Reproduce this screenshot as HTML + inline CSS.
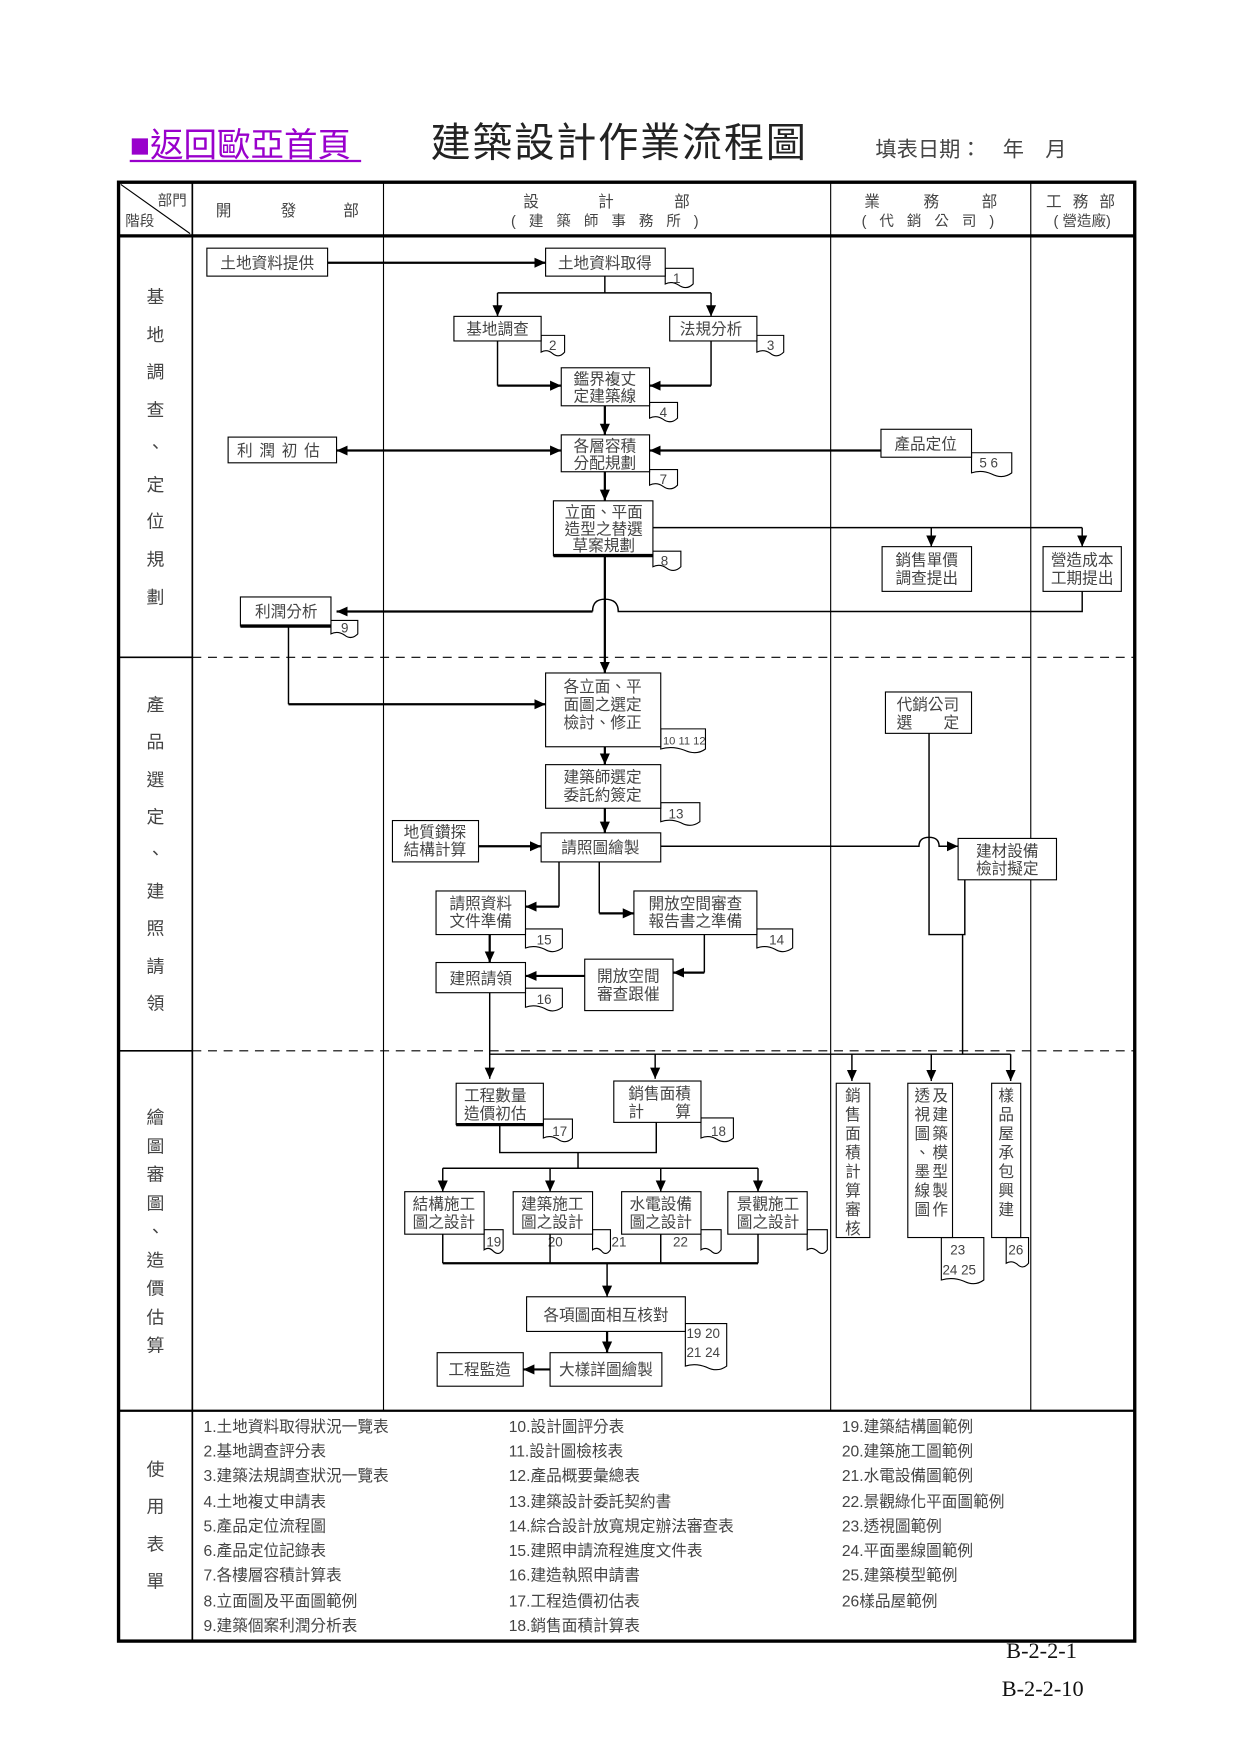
<!DOCTYPE html>
<html><head><meta charset="utf-8"><style>
html,body{margin:0;padding:0;background:#fff;}
svg{display:block;}
text{font-family:"Liberation Sans","Noto Sans CJK TC",sans-serif;fill:#444;}
.n{font-size:14px;text-anchor:middle;}
.t{font-size:12px;font-family:"Liberation Serif",serif;fill:#111;}
.s{font-size:16px;text-anchor:middle;fill:#555;}
.f{font-size:14px;fill:#555;}
</style></head><body>
<svg width="1241" height="1754" viewBox="0 0 1110 1569" xmlns="http://www.w3.org/2000/svg">
<defs>
<marker id="a" viewBox="0 0 10 10" refX="10" refY="5" markerWidth="10" markerHeight="10" markerUnits="userSpaceOnUse" orient="auto"><path d="M0,0.5 L10,5 L0,9.5 z" fill="#000"/></marker>
<marker id="b" viewBox="0 0 10 10" refX="0" refY="5" markerWidth="10" markerHeight="10" markerUnits="userSpaceOnUse" orient="auto"><path d="M10,0.5 L0,5 L10,9.5 z" fill="#000"/></marker>
</defs>

<!-- title -->
<text x="116" y="140" style="font-size:30px;fill:#9900cc;">■返回歐亞首頁</text>
<line x1="116" y1="144" x2="323" y2="144" stroke="#9900cc" stroke-width="2"/>
<text x="385" y="140" style="font-size:36px;fill:#222;letter-spacing:1.5px;">建築設計作業流程圖</text>
<text x="783" y="140" style="font-size:19px;fill:#444;">填表日期：　年　月</text>

<!-- table -->
<rect x="106" y="163" width="909" height="1305" fill="none" stroke="#000" stroke-width="3"/>
<line x1="106" y1="211" x2="1015" y2="211" stroke="#000" stroke-width="3"/>
<line x1="172" y1="163" x2="172" y2="1468" stroke="#000" stroke-width="1.5"/>
<line x1="343" y1="163" x2="343" y2="1262" stroke="#000" stroke-width="1"/>
<line x1="743" y1="163" x2="743" y2="1262" stroke="#000" stroke-width="1"/>
<line x1="922" y1="163" x2="922" y2="1262" stroke="#000" stroke-width="1"/>
<line x1="106" y1="1262" x2="1015" y2="1262" stroke="#000" stroke-width="2"/>
<line x1="106" y1="588" x2="172" y2="588" stroke="#000" stroke-width="1.5"/>
<line x1="106" y1="940" x2="172" y2="940" stroke="#000" stroke-width="1.5"/>
<line x1="172" y1="588" x2="1015" y2="588" stroke="#000" stroke-width="1" stroke-dasharray="8,6"/>
<line x1="172" y1="940" x2="1015" y2="940" stroke="#000" stroke-width="1" stroke-dasharray="8,6"/>
<line x1="108" y1="165" x2="170" y2="209" stroke="#000" stroke-width="1"/>

<!-- header -->
<text x="141" y="184" style="font-size:13px;">部門</text>
<text x="112" y="202" style="font-size:13px;">階段</text>
<text x="193" y="193" style="font-size:14px;">開</text><text x="251" y="193" style="font-size:14px;">發</text><text x="307" y="193" style="font-size:14px;">部</text>
<text x="468" y="185" style="font-size:14px;">設</text><text x="535" y="185" style="font-size:14px;">計</text><text x="603" y="185" style="font-size:14px;">部</text>
<text x="543" y="202" class="n" style="letter-spacing:4px;font-size:13px;">( 建 築 師 事 務 所 )</text>
<text x="773" y="185" style="font-size:14px;">業</text><text x="826" y="185" style="font-size:14px;">務</text><text x="878" y="185" style="font-size:14px;">部</text>
<text x="832" y="202" class="n" style="letter-spacing:4px;font-size:13px;">( 代 銷 公 司 )</text>
<text x="968" y="185" class="n" style="letter-spacing:3px;">工 務 部</text>
<text x="968" y="202" class="n" style="font-size:13px;">( 營造廠)</text>

<!-- stage labels -->
<g class="s">
<text x="139" y="271">基</text><text x="139" y="305">地</text><text x="139" y="338">調</text><text x="139" y="372">查</text><text x="139" y="405">、</text><text x="139" y="439">定</text><text x="139" y="472">位</text><text x="139" y="506">規</text><text x="139" y="540">劃</text>
<text x="139" y="636">產</text><text x="139" y="669">品</text><text x="139" y="703">選</text><text x="139" y="736">定</text><text x="139" y="769">、</text><text x="139" y="803">建</text><text x="139" y="836">照</text><text x="139" y="870">請</text><text x="139" y="903">領</text>
<text x="139" y="1005">繪</text><text x="139" y="1031">圖</text><text x="139" y="1056">審</text><text x="139" y="1082">圖</text><text x="139" y="1107">、</text><text x="139" y="1133">造</text><text x="139" y="1158">價</text><text x="139" y="1184">估</text><text x="139" y="1209">算</text>
<text x="139" y="1320">使</text><text x="139" y="1353">用</text><text x="139" y="1387">表</text><text x="139" y="1420">單</text>
</g>

<!-- forms -->
<g class="f">
<text x="182" y="1281">1.土地資料取得狀況一覽表</text>
<text x="182" y="1303">2.基地調查評分表</text>
<text x="182" y="1325">3.建築法規調查狀況一覽表</text>
<text x="182" y="1348">4.土地複丈申請表</text>
<text x="182" y="1370">5.產品定位流程圖</text>
<text x="182" y="1392">6.產品定位記錄表</text>
<text x="182" y="1414">7.各樓層容積計算表</text>
<text x="182" y="1437">8.立面圖及平面圖範例</text>
<text x="182" y="1459">9.建築個案利潤分析表</text>
<text x="455" y="1281">10.設計圖評分表</text>
<text x="455" y="1303">11.設計圖檢核表</text>
<text x="455" y="1325">12.產品概要彙總表</text>
<text x="455" y="1348">13.建築設計委託契約書</text>
<text x="455" y="1370">14.綜合設計放寬規定辦法審查表</text>
<text x="455" y="1392">15.建照申請流程進度文件表</text>
<text x="455" y="1414">16.建造執照申請書</text>
<text x="455" y="1437">17.工程造價初估表</text>
<text x="455" y="1459">18.銷售面積計算表</text>
<text x="753" y="1281">19.建築結構圖範例</text>
<text x="753" y="1303">20.建築施工圖範例</text>
<text x="753" y="1325">21.水電設備圖範例</text>
<text x="753" y="1348">22.景觀綠化平面圖範例</text>
<text x="753" y="1370">23.透視圖範例</text>
<text x="753" y="1392">24.平面墨線圖範例</text>
<text x="753" y="1414">25.建築模型範例</text>
<text x="753" y="1437">26樣品屋範例</text>
</g>
<text x="900" y="1483" style="font-family:'Liberation Serif',serif;font-size:20px;fill:#111;">B-2-2-1</text>
<text x="896" y="1517" style="font-family:'Liberation Serif',serif;font-size:20px;fill:#111;">B-2-2-10</text>

<!-- doc tags -->
<g fill="#fff" stroke="#000" stroke-width="1">
<path d="M595,240 H620 V254 Q614,260 607,255 Q601,251 595,254 Z"/>
<path d="M484,300 H505 V315 Q500,321 494,316 Q489,312 484,315 Z"/>
<path d="M677,300 H701 V315 Q695,321 689,316 Q683,312 677,315 Z"/>
<path d="M581,360 H606 V374 Q600,380 593,375 Q587,371 581,374 Z"/>
<path d="M581,420 H606 V434 Q600,440 593,435 Q587,431 581,434 Z"/>
<path d="M869,405 H905 V423 Q897,429 887,424 Q878,420 869,423 Z"/>
<path d="M584,493 H609 V507 Q603,513 596,508 Q590,504 584,507 Z"/>
<path d="M296,555 H320 V567 Q314,573 308,568 Q302,564 296,567 Z"/>
<path d="M591,652 H631 V670 Q623,676 612,671 Q601,667 591,670 Z"/>
<path d="M591,718 H626 V735 Q618,741 609,736 Q600,732 591,735 Z"/>
<path d="M470,831 H503 V848 Q495,854 487,849 Q478,845 470,848 Z"/>
<path d="M677,831 H709 V848 Q701,854 693,849 Q685,845 677,848 Z"/>
<path d="M470,884 H503 V901 Q495,907 487,902 Q478,898 470,901 Z"/>
<path d="M486,1001 H512 V1018 Q506,1024 499,1019 Q492,1015 486,1018 Z"/>
<path d="M627,1000 H656 V1018 Q649,1024 641,1019 Q634,1015 627,1018 Z"/>
<path d="M433,1100 H450 V1118 Q446,1124 441,1119 Q437,1115 433,1118 Z"/>
<path d="M530,1100 H546 V1118 Q542,1124 538,1119 Q534,1115 530,1118 Z"/>
<path d="M627,1100 H645 V1118 Q641,1124 636,1119 Q631,1115 627,1118 Z"/>
<path d="M722,1100 H740 V1118 Q736,1124 731,1119 Q726,1115 722,1118 Z"/>
<path d="M842,1107 H880 V1145 Q872,1151 862,1146 Q852,1142 842,1145 Z"/>
<path d="M900,1107 H920 V1130 Q915,1136 910,1131 Q905,1127 900,1130 Z"/>
<path d="M613,1184 H650 V1222 Q642,1228 632,1223 Q622,1219 613,1222 Z"/>
</g>
<g class="t">
<text x="602" y="253">1</text><text x="491" y="313">2</text><text x="686" y="313">3</text>
<text x="590" y="373">4</text><text x="590" y="433">7</text><text x="876" y="418">5 6</text>
<text x="591" y="506">8</text><text x="305" y="566">9</text>
<text x="593" y="666" style="font-size:10px;">10 11 12</text>
<text x="598" y="732">13</text><text x="480" y="845">15</text><text x="688" y="845">14</text>
<text x="480" y="898">16</text><text x="494" y="1016">17</text><text x="636" y="1016">18</text>
<text x="435" y="1115">19</text><text x="490" y="1115">20</text><text x="547" y="1115">21</text><text x="602" y="1115">22</text>
<text x="850" y="1122">23</text><text x="843" y="1140">24  25</text><text x="902" y="1122">26</text>
<text x="614" y="1197">19 20</text><text x="614" y="1214">21 24</text>
</g>

<!-- boxes -->
<g fill="#fff" stroke="#000" stroke-width="1">
<rect x="185" y="222" width="108" height="25"/>
<rect x="488" y="222" width="107" height="25"/>
<rect x="406" y="283" width="78" height="22"/>
<rect x="599" y="283" width="78" height="22"/>
<rect x="502" y="329" width="79" height="34"/>
<rect x="502" y="389" width="79" height="33"/>
<rect x="204" y="391" width="97" height="23"/>
<rect x="788" y="384" width="81" height="25"/>
<rect x="495" y="448" width="89" height="49"/>
<rect x="789" y="489" width="80" height="40"/>
<rect x="933" y="489" width="70" height="40"/>
<rect x="215" y="534" width="81" height="26"/>
<rect x="488" y="602" width="103" height="66"/>
<rect x="488" y="684" width="103" height="39"/>
<rect x="484" y="745" width="107" height="26"/>
<rect x="351" y="734" width="77" height="37"/>
<rect x="857" y="750" width="88" height="37"/>
<rect x="792" y="619" width="77" height="37"/>
<rect x="390" y="797" width="80" height="39"/>
<rect x="567" y="797" width="110" height="39"/>
<rect x="390" y="861" width="80" height="27"/>
<rect x="523" y="858" width="79" height="46"/>
<rect x="408" y="969" width="78" height="37"/>
<rect x="549" y="967" width="78" height="37"/>
<rect x="362" y="1066" width="71" height="38"/>
<rect x="459" y="1066" width="71" height="38"/>
<rect x="556" y="1066" width="71" height="38"/>
<rect x="651" y="1066" width="71" height="38"/>
<rect x="471" y="1160" width="142" height="31"/>
<rect x="492" y="1210" width="100" height="30"/>
<rect x="391" y="1210" width="77" height="30"/>
<rect x="748" y="969" width="30" height="138"/>
<rect x="812" y="969" width="40" height="138"/>
<rect x="887" y="969" width="26" height="138"/>
</g>
<g stroke="#000" stroke-width="3">
<line x1="495" y1="497" x2="584" y2="497"/>
<line x1="215" y1="560" x2="296" y2="560"/>
<line x1="408" y1="1006" x2="486" y2="1006"/>
</g>

<!-- box texts -->
<g class="n">
<text x="239" y="240">土地資料提供</text>
<text x="541" y="240">土地資料取得</text>
<text x="445" y="299">基地調查</text>
<text x="636" y="299">法規分析</text>
<text x="541" y="344">鑑界複丈</text><text x="541" y="359">定建築線</text>
<text x="541" y="404">各層容積</text><text x="541" y="419">分配規劃</text>
<text x="252" y="408" style="letter-spacing:6px;">利潤初估</text>
<text x="828" y="402">產品定位</text>
<text x="540" y="463">立面、平面</text><text x="540" y="478">造型之替選</text><text x="540" y="493">草案規劃</text>
<text x="829" y="506">銷售單價</text><text x="829" y="522">調查提出</text>
<text x="968" y="506">營造成本</text><text x="968" y="522">工期提出</text>
<text x="256" y="552">利潤分析</text>
<text x="539" y="619">各立面、平</text><text x="539" y="635">面圖之選定</text><text x="539" y="651">檢討、修正</text>
<text x="539" y="700">建築師選定</text><text x="539" y="716">委託約簽定</text>
<text x="537" y="763">請照圖繪製</text>
<text x="389" y="749">地質鑽探</text><text x="389" y="765">結構計算</text>
<text x="901" y="766">建材設備</text><text x="901" y="782">檢討擬定</text>
<text x="830" y="635">代銷公司</text><text x="830" y="651">選　　定</text>
<text x="430" y="813">請照資料</text><text x="430" y="829">文件準備</text>
<text x="622" y="813">開放空間審查</text><text x="622" y="829">報告書之準備</text>
<text x="430" y="880">建照請領</text>
<text x="562" y="878">開放空間</text><text x="562" y="894">審查跟催</text>
<text x="443" y="985">工程數量</text><text x="443" y="1001">造價初估</text>
<text x="590" y="983">銷售面積</text><text x="590" y="999">計　　算</text>
<text x="397" y="1082">結構施工</text><text x="397" y="1098">圖之設計</text>
<text x="494" y="1082">建築施工</text><text x="494" y="1098">圖之設計</text>
<text x="591" y="1082">水電設備</text><text x="591" y="1098">圖之設計</text>
<text x="687" y="1082">景觀施工</text><text x="687" y="1098">圖之設計</text>
<text x="542" y="1181">各項圖面相互核對</text>
<text x="542" y="1230">大樣詳圖繪製</text>
<text x="429" y="1230">工程監造</text>
</g>
<g class="n" style="font-size:14px;">
<text x="763" y="985">銷</text><text x="763" y="1002">售</text><text x="763" y="1019">面</text><text x="763" y="1036">積</text><text x="763" y="1053">計</text><text x="763" y="1070">算</text><text x="763" y="1087">審</text><text x="763" y="1104">核</text>
<text x="825" y="985">透</text><text x="825" y="1002">視</text><text x="825" y="1019">圖</text><text x="825" y="1036">、</text><text x="825" y="1053">墨</text><text x="825" y="1070">線</text><text x="825" y="1087">圖</text>
<text x="841" y="985">及</text><text x="841" y="1002">建</text><text x="841" y="1019">築</text><text x="841" y="1036">模</text><text x="841" y="1053">型</text><text x="841" y="1070">製</text><text x="841" y="1087">作</text>
<text x="900" y="985">樣</text><text x="900" y="1002">品</text><text x="900" y="1019">屋</text><text x="900" y="1036">承</text><text x="900" y="1053">包</text><text x="900" y="1070">興</text><text x="900" y="1087">建</text>
</g>

<!-- connectors thick -->
<g stroke="#000" stroke-width="2" fill="none">
<line x1="293" y1="235" x2="488" y2="235" marker-end="url(#a)"/>
<line x1="445" y1="345" x2="502" y2="345" marker-end="url(#a)"/>
<line x1="636" y1="345" x2="581" y2="345" marker-end="url(#a)"/>
<line x1="541" y1="363" x2="541" y2="389" marker-end="url(#a)"/>
<line x1="301" y1="403" x2="502" y2="403" marker-start="url(#b)" marker-end="url(#a)"/>
<line x1="788" y1="403" x2="581" y2="403" marker-end="url(#a)"/>
<line x1="541" y1="422" x2="541" y2="448" marker-end="url(#a)"/>
<path d="M530,547 H301" marker-end="url(#a)"/>
<line x1="541" y1="497" x2="541" y2="602" marker-end="url(#a)"/>
<path d="M258,630 H488" marker-end="url(#a)"/>
<line x1="541" y1="668" x2="541" y2="684" marker-end="url(#a)"/>
<line x1="541" y1="723" x2="541" y2="745" marker-end="url(#a)"/>
<line x1="428" y1="757" x2="484" y2="757" marker-end="url(#a)"/>
<path d="M500,811 H470" marker-end="url(#a)"/>
<path d="M536,817 H567" marker-end="url(#a)"/>
<path d="M438,836 V861" marker-end="url(#a)"/>
<path d="M630,870 H602" marker-end="url(#a)"/>
<path d="M523,873 H470" marker-end="url(#a)"/>
<line x1="396" y1="1130" x2="678" y2="1130"/>
<path d="M543,1191 V1210" marker-end="url(#a)"/>
<path d="M492,1225 H468" marker-end="url(#a)"/>
</g>
<!-- connectors thin -->
<g stroke="#000" stroke-width="1.3" fill="none">
<path d="M541,247 V262"/>
<path d="M445,262 H636"/>
<path d="M445,262 V283" marker-end="url(#a)"/>
<path d="M636,262 V283" marker-end="url(#a)"/>
<path d="M445,305 V345"/><path d="M636,305 V345"/>
<path d="M584,472 H968"/>
<path d="M833,472 V489" marker-end="url(#a)"/>
<path d="M968,472 V489" marker-end="url(#a)"/>
<path d="M968,529 V547 H553 Q553,536 541,536 Q530,536 530,547"/>
<path d="M258,560 V630"/>
<path d="M591,757 H822 Q822,749 831,749 Q840,749 840,757 H857" marker-end="url(#a)"/>
<path d="M500,771 V811"/><path d="M536,771 V817"/>
<path d="M630,836 V870"/>
<path d="M831,656 V836 H863 V787"/>
<path d="M861,836 V943"/>
<path d="M438,888 V965" marker-end="url(#a)"/>
<path d="M438,943 H904"/>
<path d="M586,943 V965" marker-end="url(#a)"/>
<path d="M762,943 V967" marker-end="url(#a)"/>
<path d="M833,943 V967" marker-end="url(#a)"/>
<path d="M904,943 V967" marker-end="url(#a)"/>
<path d="M447,1006 V1031 H587 V1004"/>
<path d="M517,1031 V1045"/>
<path d="M396,1045 H678"/>
<path d="M396,1045 V1066" marker-end="url(#a)"/>
<path d="M492,1045 V1066" marker-end="url(#a)"/>
<path d="M591,1045 V1066" marker-end="url(#a)"/>
<path d="M678,1045 V1066" marker-end="url(#a)"/>
<path d="M396,1104 V1130"/><path d="M492,1104 V1130"/><path d="M591,1104 V1130"/><path d="M678,1104 V1130"/>
<path d="M543,1130 V1160" marker-end="url(#a)"/>
</g>
</svg>
</body></html>
